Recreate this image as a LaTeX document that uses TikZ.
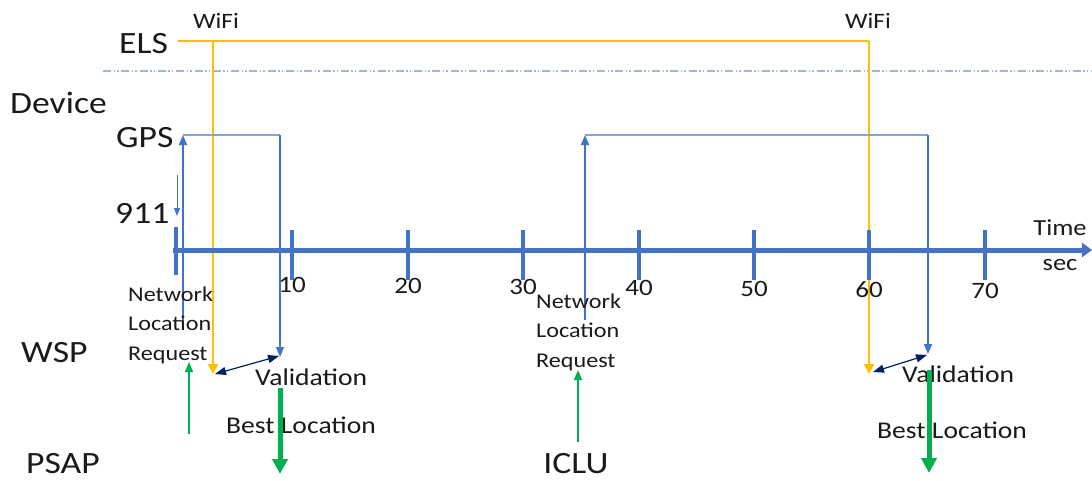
\documentclass[tikz,border=0pt]{standalone}
\usepackage{fontspec}
\setmainfont{Carlito}[FakeStretch=1.15]
\usetikzlibrary{arrows.meta}
\definecolor{elsorange}{HTML}{FFC000}
\definecolor{axisblue}{HTML}{4472C4}
\definecolor{sepblue}{HTML}{9DB5E0}
\definecolor{navyblue}{HTML}{002060}
\definecolor{callgreen}{HTML}{00B050}
\definecolor{ink}{HTML}{1A1A1A}

\begin{document}
\begin{tikzpicture}[x=1pt,y=-1pt,
  lane/.style={font=\fontsize{31}{36}\selectfont, text=ink, inner sep=0pt, anchor=base west},
  ticklbl/.style={font=\fontsize{23.5}{26}\selectfont, text=ink, inner sep=0pt, anchor=base},
  note/.style={font=\fontsize{21}{29.5}\selectfont, text=ink, inner sep=0pt, anchor=base west, align=left},
  msg/.style={font=\fontsize{24}{28}\selectfont, text=ink, inner sep=0pt, anchor=base west},
  wifi/.style={font=\fontsize{22}{26}\selectfont, text=ink, inner sep=0pt, anchor=base},
  elsline/.style={elsorange, line width=2pt},
  elsarrow/.style={elsline, -{Triangle[width=10pt,length=10pt]}},
  gpsline/.style={axisblue!65, line width=1.3pt},
  gpsarrow/.style={axisblue, line width=1.6pt, -{Triangle[width=8pt,length=10pt]}},
  valarrow/.style={navyblue, line width=1.2pt, {Triangle[width=8pt,length=11pt]}-{Triangle[width=8pt,length=11pt]}},
  reqarrow/.style={callgreen, line width=1.6pt, -{Triangle[width=8pt,length=10pt]}},
  bestarrow/.style={callgreen, line width=5pt, -{Triangle[width=15pt,length=15pt]}},
  tickmark/.style={axisblue, line width=4pt}
]
\useasboundingbox (0,0) rectangle (1092,480);
\fill[white] (0,0) rectangle (1092,480);

% lane labels
\node[lane] (els) at (119,53) {ELS};
\node[lane] (device) at (10,113) {Device};
\node[lane] (gps) at (116,147) {GPS};
\node[lane] (n911) at (115,223) {911};
\node[lane] (wsp) at (21,362) {WSP};
\node[lane] (psap) at (26,473) {PSAP};

% separator between ELS and the device lanes
\draw[sepblue, line width=1.6pt, dash pattern=on 8pt off 2.5pt on 1.5pt off 2pt on 1.5pt off 2.8pt] (103,71) -- (1092,71);

% WiFi fixes delivered through ELS
\node[wifi] (wifi1) at (216,28) {WiFi};
\node[wifi] (wifi2) at (868,28) {WiFi};
\coordinate (elsA) at (178,41);
\coordinate (elsB) at (213,41);
\coordinate (elsC) at (869,41);
\coordinate (wspA) at (213,374);
\coordinate (wspC) at (869,374);
\draw[elsline] (elsA) -- (elsC);
\draw[elsarrow] (elsB) -- (wspA);
\draw[elsarrow] (elsC) -- (wspC);

% GPS requests and results
\coordinate (req1) at (183,320);
\coordinate (gps1) at (183,135);
\coordinate (gps1b) at (280,135);
\coordinate (res1) at (280,357);
\coordinate (req2) at (585,320);
\coordinate (gps2) at (585,135);
\coordinate (gps2b) at (928,135);
\coordinate (res2) at (928,354);
\draw[gpsline] (gps1) -- (gps1b);
\draw[gpsline] (gps2) -- (gps2b);
\draw[gpsarrow] (req1) -- (gps1);
\draw[gpsarrow] (gps1b) -- (res1);
\draw[gpsarrow] (req2) -- (gps2);
\draw[gpsarrow] (gps2b) -- (res2);

% the 911 call
\coordinate (call0) at (177,175);
\coordinate (call1) at (177,216);
\draw[axisblue, line width=1pt, -{Triangle[width=6pt,length=8pt]}] (call0) -- (call1);

% time axis
\draw[axisblue, line width=5pt, -{Triangle[width=14pt,length=10pt]}] (173,250) -- (1092,250);
\draw[tickmark] (176,227) -- (176,275);
\foreach \t/\x/\b in {10/292/292, 20/408/293, 30/523/294, 40/639/295, 50/754/296, 60/869/297, 70/985/298} {
  \draw[tickmark] (\x,230) -- (\x,280);
  \node[ticklbl] (t\t) at (\x,\b) {\t};
}
% the base anchor of a multi-line node sits on its last line
\node[font=\fontsize{23}{35}\selectfont, text=ink, inner sep=0pt, anchor=base, align=center] (time) at (1060,270) {Time\\sec};

% network location requests
\node[note] (nlr1) at (128,360) {Network\\Location\\Request};
\node[note] (nlr2) at (536,367) {Network\\Location\\Request};
\node[lane, anchor=base] (iclu) at (576,473) {ICLU};
\coordinate (src1) at (189,434);
\coordinate (dst1) at (189,362);
\coordinate (src2) at (578,442);
\coordinate (dst2) at (578,370);
\draw[reqarrow] (src1) -- (dst1);
\draw[reqarrow] (src2) -- (dst2);

% validation between WiFi and GPS fixes
\coordinate (v1a) at (215,374);
\coordinate (v1b) at (279,356);
\coordinate (v2a) at (873,372);
\coordinate (v2b) at (927,355);
\draw[valarrow] (v1a) -- (v1b);
\draw[valarrow] (v2a) -- (v2b);
\node[msg] (val1) at (255,385) {Validation};
\node[msg] (val2) at (902,382) {Validation};

% best location to the PSAP
\node[msg] (best1) at (226,433) {Best Location};
\node[msg] (best2) at (877,438) {Best Location};
\coordinate (b1a) at (280,388);
\coordinate (b1b) at (280,474);
\coordinate (b2a) at (929,370);
\coordinate (b2b) at (929,473);
\draw[bestarrow] (b1a) -- (b1b);
\draw[bestarrow] (b2a) -- (b2b);
\end{tikzpicture}
\end{document}
